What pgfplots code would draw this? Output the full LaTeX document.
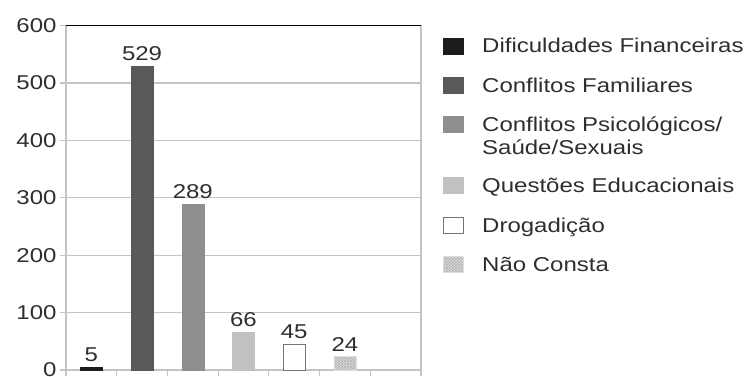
\documentclass[border=0pt]{standalone}
\usepackage{fontspec}
\setmainfont{Liberation Sans}[FakeStretch=1.2]
\usepackage{pgfplots}
\pgfplotsset{compat=1.18}
\usetikzlibrary{patterns}

\newcommand\chartfont{\fontsize{20}{23}\selectfont}

\definecolor{cFin}{HTML}{1C1C1C}
\definecolor{cFam}{HTML}{595959}
\definecolor{cPsi}{HTML}{8E8E8E}
\definecolor{cEdu}{HTML}{C1C1C1}
\definecolor{cNC}{HTML}{DEDEDE}
\definecolor{cGrid}{HTML}{C4C4C4}
\definecolor{cText}{HTML}{2E2E2E}

\begin{document}
\begin{tikzpicture}
\useasboundingbox (-66pt,-6pt) rectangle (679pt,370pt);
\begin{axis}[
  at={(0,0)}, anchor=south west,
  scale only axis, width=355pt, height=344.5pt,
  xmin=0, xmax=7, ymin=0, ymax=600,
  xtick={0,1,...,7}, xticklabels={,,,,,,,},
  ytick={0,100,...,600},
  tick align=outside, major tick length=6pt,
  xtick pos=left, ytick pos=left,
  tick style={draw=cGrid, line width=1.2pt},
  axis line style={draw=cGrid, line width=1.2pt},
  ymajorgrids, grid style={draw=cGrid, line width=1.2pt},
  ybar, bar width=22pt, bar shift=0pt,
  nodes near coords,
  nodes near coords style={font=\chartfont, text=cText, inner sep=5pt},
  every tick label/.append style={font=\chartfont, text=cText},
  /pgf/number format/assume math mode=true,
  legend image code/.code={\draw[#1] (0pt,-1pt) rectangle (20pt,15pt);},
  legend style={at={(1,1)}, anchor=north west, xshift=22pt, yshift=-12pt,
    draw=none, fill=none, inner sep=0pt, row sep=18pt, column sep=18pt,
    font=\chartfont, text=cText,
    nodes={inner sep=0pt, text height=14pt, text depth=6pt},
    cells={anchor=base west}},
]
\addplot[fill=cFin, draw=cFin] coordinates {(0.5,5)};
\addlegendentry{Dificuldades Financeiras}
\addplot[fill=cFam, draw=cFam] coordinates {(1.5,529)};
\addlegendentry{Conflitos Familiares}
\addplot[fill=cPsi, draw=cPsi] coordinates {(2.5,289)};
\addlegendentry[text depth=28pt]{\vtop{\hbox{Conflitos Psicológicos/}\hbox{Saúde/Sexuais}}}
\addplot[fill=cEdu, draw=cEdu] coordinates {(3.5,66)};
\addlegendentry{Questões Educacionais}
\addplot[fill=white, draw=black!55, line width=1pt] coordinates {(4.5,45)};
\addlegendentry{Drogadição}
\addplot[fill=cNC, draw=cNC, postaction={pattern=crosshatch, pattern color=black!30}] coordinates {(5.5,24)};
\addlegendentry{Não Consta}
% black frame line along the top of the plot area
\draw[black, line width=1.2pt] ([xshift=-6pt]rel axis cs:0,1) -- (rel axis cs:1,1);
\end{axis}
\end{tikzpicture}
\end{document}
